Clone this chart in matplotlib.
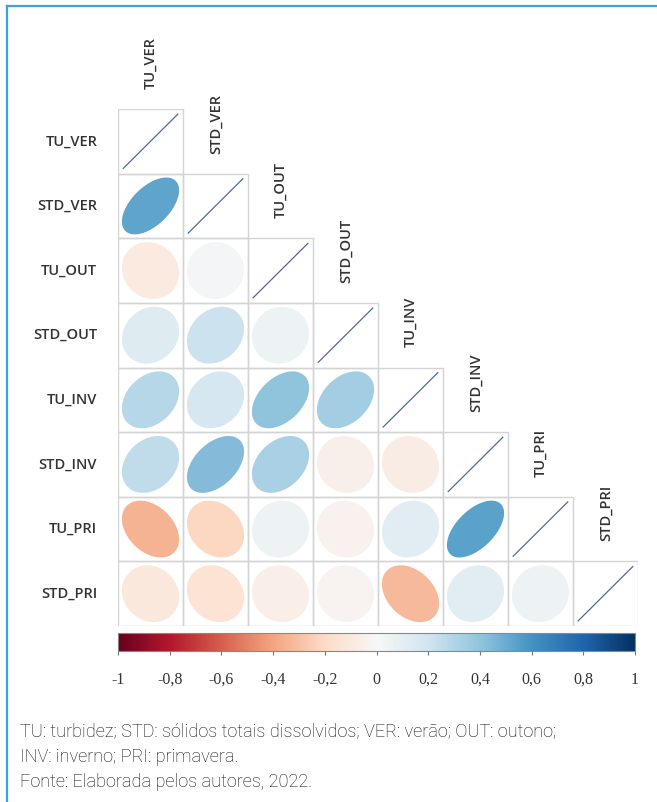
import numpy as np
import matplotlib.pyplot as plt
from matplotlib.patches import Polygon, Rectangle
from matplotlib.lines import Line2D
from matplotlib.cm import ScalarMappable
from matplotlib.colors import Normalize

# variables (rows / columns of the correlation matrix)
names = ["TU_VER", "STD_VER", "TU_OUT", "STD_OUT",
         "TU_INV", "STD_INV", "TU_PRI", "STD_PRI"]

# lower triangle of the correlation matrix, one row per variable
r_tu_ver = [1.0]
r_std_ver = [0.55, 1.0]
r_tu_out = [-0.10, 0.02, 1.0]
r_std_out = [0.14, 0.22, 0.06, 1.0]
r_tu_inv = [0.30, 0.18, 0.42, 0.36, 1.0]
r_std_inv = [0.26, 0.45, 0.34, -0.06, -0.08, 1.0]
r_tu_pri = [-0.36, -0.22, 0.05, -0.04, 0.11, 0.56, 1.0]
r_std_pri = [-0.11, -0.15, -0.07, -0.03, -0.34, 0.11, 0.06, 1.0]
rows = [r_tu_ver, r_std_ver, r_tu_out, r_std_out,
        r_tu_inv, r_std_inv, r_tu_pri, r_std_pri]

cb_ticks = [-1, -0.8, -0.6, -0.4, -0.2, 0, 0.2, 0.4, 0.6, 0.8, 1]
cb_labels = ["-1", "-0,8", "-0,6", "-0,4", "-0,2", "0",
             "0,2", "0,4", "0,6", "0,8", "1"]

caption = ["TU: turbidez; STD: sólidos totais dissolvidos; VER: verão; OUT: outono;",
           "INV: inverno; PRI: primavera.",
           "Fonte: Elaborada pelos autores, 2022."]

W, H = 657, 802
fig = plt.figure(figsize=(W / 100, H / 100), dpi=100)


def px_axes(x0, y0, x1, y1):
    return fig.add_axes([x0 / W, 1 - y1 / H, (x1 - x0) / W, (y1 - y0) / H])


cmap = plt.get_cmap("RdBu")
norm = Normalize(-1, 1)
n = len(names)

ax = px_axes(118, 109, 638, 626)
ax.set_xlim(0, n)
ax.set_ylim(n, 0)
ax.axis("off")

t = np.linspace(0, 2 * np.pi, 120)
for i, row in enumerate(rows):
    for j, rho in enumerate(row):
        ax.add_patch(Rectangle((j, i), 1, 1, fill=False, ec="#d4d4d4", lw=1.0, zorder=1))
        cx, cy = j + 0.5, i + 0.5
        if i == j:
            ax.plot([cx - 0.42, cx + 0.42], [cy + 0.42, cy - 0.42],
                    color="#52699a", lw=0.9, zorder=3)
            continue
        d = np.arccos(rho)
        ex = np.cos(t + d / 2) * 0.44 + cx
        ey = -np.cos(t - d / 2) * 0.44 + cy
        ax.add_patch(Polygon(np.column_stack([ex, ey]), closed=True,
                             fc=cmap(norm(rho)), ec="none", alpha=0.95, zorder=2))

# row labels
for i, nm in enumerate(names):
    ax.text(-0.32, i + 0.5, nm, ha="right", va="center", fontsize=10.5,
            family="Open Sans", weight="semibold", color="#333333")
# column labels above the diagonal cells
for j, nm in enumerate(names):
    ax.text(j + 0.5, j - 0.31, nm, ha="center", va="bottom", rotation=90,
            fontsize=10.5, family="Open Sans", weight="semibold", color="#333333")

# colour bar
cax = px_axes(118, 633, 635, 651)
cb = fig.colorbar(ScalarMappable(norm=norm, cmap=cmap), cax=cax, orientation="horizontal")
cb.set_ticks(cb_ticks)
cb.set_ticklabels(cb_labels)
cb.outline.set_edgecolor("#888888")
cb.outline.set_linewidth(0.8)
cax.tick_params(axis="x", length=3, width=0.8, color="#777777", pad=12,
                labelsize=11.5, labelcolor="#333333")
for lab in cax.get_xticklabels():
    lab.set_family("Liberation Serif")

# caption lines
for k, line in enumerate(caption):
    fig.text(20 / W, 1 - (731 + 25.5 * k) / H, line, ha="left", va="center",
             fontsize=13.1, family="Roboto", weight="light", color="#111111")

# frame
fig.add_artist(Line2D([7 / W, 1], [1 - 5.5 / H, 1 - 5.5 / H], color="#35a6dc", lw=1.6))
fig.add_artist(Line2D([7 / W, 7 / W], [0, 1 - 5.5 / H], color="#35a6dc", lw=1.6))

fig.savefig("out.png", dpi=100)
